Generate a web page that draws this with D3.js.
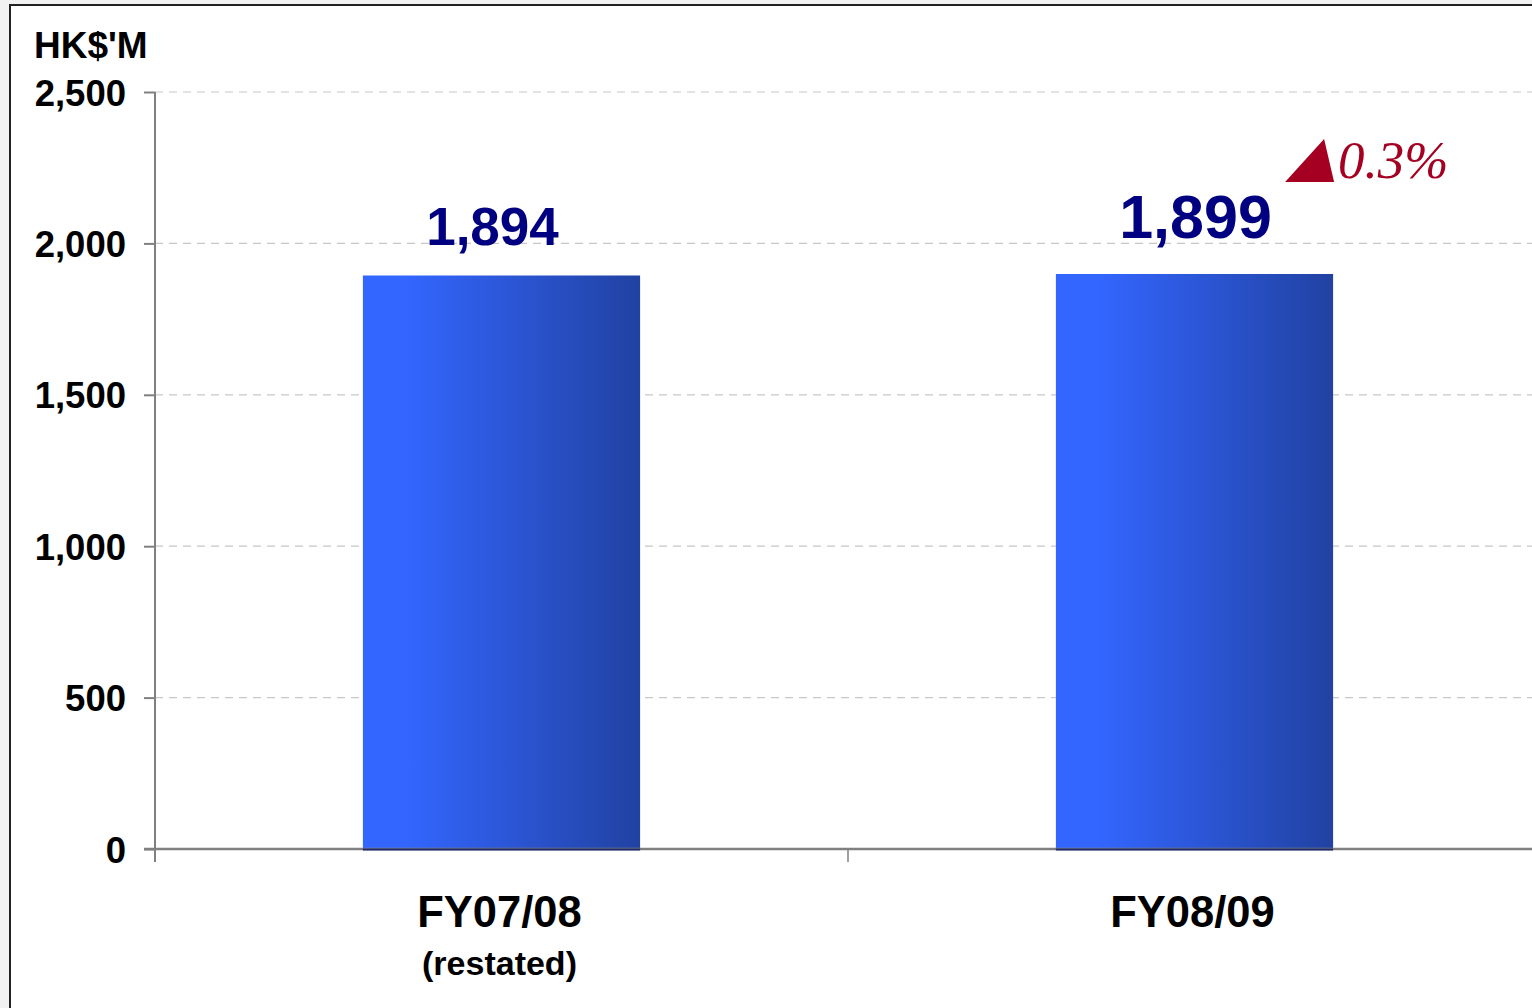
<!DOCTYPE html>
<html><head><meta charset="utf-8">
<script src="https://cdn.jsdelivr.net/npm/d3@7"></script>
<style>
html,body{margin:0;padding:0;background:#f2f2f2;}
svg{display:block;}
</style></head>
<body>
<svg id="chart" width="1532" height="1008"></svg>
<script>
const categories = ["FY07/08", "FY08/09"];
const subLabels = ["(restated)", ""];
const values = [1894, 1899];
const valueLabels = ["1,894", "1,899"];
const yTicks = [0, 500, 1000, 1500, 2000, 2500];
const unitLabel = "HK$'M";
const changeLabel = "0.3%";

const svg = d3.select("#chart");
const defs = svg.append("defs");
const grad = defs.append("linearGradient").attr("id","barGrad").attr("x1","0").attr("x2","1").attr("y1","0").attr("y2","0");
grad.append("stop").attr("offset","0%").attr("stop-color","#3366ff");
grad.append("stop").attr("offset","15%").attr("stop-color","#3366ff");
grad.append("stop").attr("offset","100%").attr("stop-color","#2142a2");

// frame
svg.append("rect").attr("x",10).attr("y",5).attr("width",1540).attr("height",1020)
  .attr("fill","#fff").attr("stroke","#222").attr("stroke-width",2);

const x0 = 155, yBase = 849, yTop = 92;
const x = d3.scaleBand().domain(categories).range([x0, x0 + 2*693]).paddingInner(0.6).paddingOuter(0.3);
const y = d3.scaleLinear().domain([0, 2500]).range([yBase, yTop]);

// grid
svg.append("g").selectAll("line").data(yTicks.filter(d=>d>0)).join("line")
  .attr("x1", x0).attr("x2", 1532).attr("y1", d=>y(d)).attr("y2", d=>y(d))
  .attr("stroke","#c8c8c8").attr("stroke-width",1.2).attr("stroke-dasharray","8,6");

// bars
svg.append("g").selectAll("rect").data(values).join("rect")
  .attr("x",(d,i)=>x(categories[i])).attr("width",x.bandwidth())
  .attr("y",d=>y(d)).attr("height",d=>yBase-y(d)).attr("fill","url(#barGrad)");

// y axis
const yAxis = d3.axisLeft(y).tickValues(yTicks).tickSize(11).tickFormat(d3.format(","));
const gy = svg.append("g").attr("transform",`translate(${x0},0)`).call(yAxis);
gy.select(".domain").attr("d",`M0,${yTop}V${yBase+13}`).attr("stroke","#808080").attr("stroke-width",2);
gy.selectAll(".tick line").attr("stroke","#808080").attr("stroke-width",2);
gy.selectAll(".tick text").attr("x",-29).attr("dy","0.36em").attr("fill","#000")
  .style("font-family","'Liberation Sans', Arial, sans-serif").style("font-size","36.5px").style("font-weight","bold");

// x axis
const gx = svg.append("g");
gx.append("line").attr("x1",x0-11).attr("x2",1532).attr("y1",yBase).attr("y2",yBase).attr("stroke","#808080").attr("stroke-width",2.5);
gx.selectAll("line.tk").data([x0 + x.step()]).join("line").attr("class","tk")
  .attr("x1",d=>d).attr("x2",d=>d).attr("y1",yBase).attr("y2",yBase+13).attr("stroke","#808080").attr("stroke-width",1.5);
// bar bottom edges
gx.selectAll("line.be").data(values).join("line").attr("class","be")
  .attr("x1",(d,i)=>x(categories[i])).attr("x2",(d,i)=>x(categories[i])+x.bandwidth())
  .attr("y1",yBase+0.5).attr("y2",yBase+0.5).attr("stroke","#1b2a6e").attr("stroke-width",2);

svg.append("g").selectAll("text").data(categories).join("text")
  .attr("x",d=>x(d)+x.bandwidth()/2-2).attr("y",927).attr("text-anchor","middle")
  .style("font-family","'Liberation Sans', Arial, sans-serif").style("font-size","43.5px").style("font-weight","bold")
  .text(d=>d);
svg.append("g").selectAll("text").data(subLabels).join("text")
  .attr("x",(d,i)=>x(categories[i])+x.bandwidth()/2-2).attr("y",975).attr("text-anchor","middle")
  .style("font-family","'Liberation Sans', Arial, sans-serif").style("font-size","34px").style("font-weight","bold")
  .text(d=>d);

// unit label
svg.append("text").attr("x",34).attr("y",58)
  .style("font-family","'Liberation Sans', Arial, sans-serif").style("font-size","37px").style("font-weight","bold")
  .text(unitLabel);

// value labels
const labelSize = [53, 61];
const labelDx = [-9, 1];
const labelBase = [245, 238];
svg.append("g").selectAll("text").data(valueLabels).join("text")
  .attr("x",(d,i)=>x(categories[i])+x.bandwidth()/2+labelDx[i]).attr("y",(d,i)=>labelBase[i])
  .attr("text-anchor","middle").attr("fill","#000080")
  .style("font-family","'Liberation Sans', Arial, sans-serif").style("font-size",(d,i)=>labelSize[i]+"px").style("font-weight","bold")
  .text(d=>d);

// change annotation
const ax = x(categories[1]) + x.bandwidth() - 48, ay = 182;
svg.append("path").attr("d",`M${ax},${ay}L${ax+39},${ay-43}L${ax+49},${ay}Z`).attr("fill","#a50021");
svg.append("text").attr("x",ax+53).attr("y",178).attr("fill","#a50021")
  .style("font-family","'Liberation Serif', 'Times New Roman', serif").style("font-size","53px").style("font-style","italic")
  .text(changeLabel);
</script>
</body></html>
